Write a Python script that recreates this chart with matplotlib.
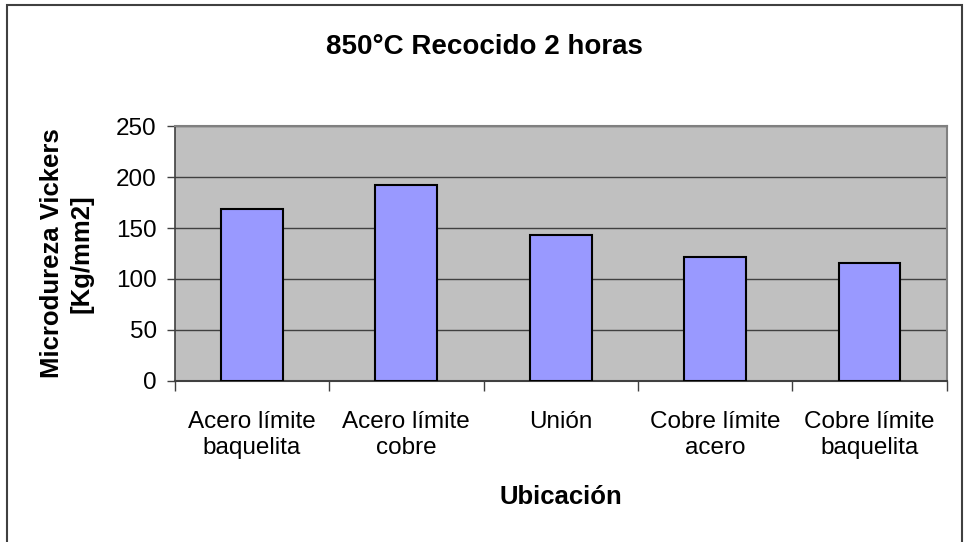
import matplotlib
matplotlib.use("Agg")
import matplotlib.pyplot as plt
from matplotlib.patches import Rectangle

categories = ["Acero límite\nbaquelita", "Acero límite\ncobre", "Unión",
              "Cobre límite\nacero", "Cobre límite\nbaquelita"]
values = [169, 192, 143, 122, 116]
yticks = [0, 50, 100, 150, 200, 250]

plt.rcParams['font.family'] = ['Liberation Sans', 'DejaVu Sans']

W, H = 967, 542
fig = plt.figure(figsize=(W / 100, H / 100), dpi=100)
ax = fig.add_axes([174.7 / W, 1 - 380.7 / H, (946.7 - 174.7) / W, (380.7 - 126.3) / H])
ax.set_facecolor('#c0c0c0')

x = list(range(len(categories)))
ax.bar(x, values, width=0.4, color='#9999ff', edgecolor='black', linewidth=1.5, zorder=3)

ax.set_xlim(-0.5, len(categories) - 0.5)
ax.set_ylim(0, 250)
ax.set_yticks(yticks)
ax.set_yticklabels([str(v) for v in yticks], fontsize=17.5)
ax.yaxis.grid(True, color='#404040', linewidth=1.0, zorder=1)
ax.set_axisbelow(True)

ax.set_xticks(x)
ax.set_xticklabels(categories, fontsize=17.5, linespacing=1.22)
ax.tick_params(axis='x', length=0, pad=22)
ax.set_xticks([i - 0.5 for i in range(len(categories) + 1)], minor=True)
ax.tick_params(axis='x', which='minor', length=7, width=1, color='#404040', direction='out')
ax.tick_params(axis='y', length=6, width=1, color='#404040', direction='out', pad=7)

for side in ['top', 'right']:
    ax.spines[side].set_color('#808080')
    ax.spines[side].set_linewidth(1.5)
ax.spines['left'].set_color('#404040')
ax.spines['bottom'].set_color('#404040')
ax.spines['left'].set_linewidth(1.2)
ax.spines['bottom'].set_linewidth(1.5)

ax.set_xlabel("Ubicación", fontsize=18.5, fontweight='bold', labelpad=19)
ax.set_ylabel("Microdureza Vickers\n[Kg/mm2]", fontsize=18.5, fontweight='bold', labelpad=16,
              linespacing=1.28)

fig.text(0.5 * (7 + 962) / W, 1 - 47 / H, "850°C Recocido 2 horas", fontsize=20,
         fontweight='bold', ha='center', va='center')

rect = Rectangle((7 / W, -0.05), (962 - 7) / W, 1 - 5 / H + 0.05, transform=fig.transFigure,
                 fill=False, edgecolor='#404040', linewidth=1.5, clip_on=False)
fig.patches.append(rect)

fig.savefig("out.png", dpi=100)
